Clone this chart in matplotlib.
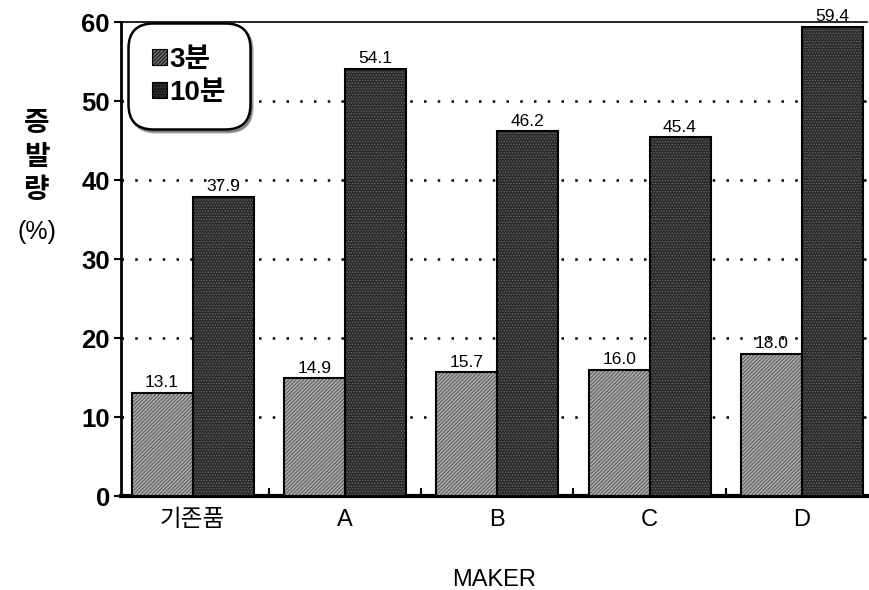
import matplotlib
matplotlib.use("Agg")
import matplotlib.pyplot as plt
import numpy as np
from matplotlib.ticker import FixedLocator

plt.rcParams['font.family'] = ['Liberation Sans', 'Noto Sans CJK KR']
plt.rcParams['hatch.linewidth'] = 0.6

makers = ['기존품', 'A', 'B', 'C', 'D']
series_names = ['3분', '10분']
vals_3min = [13.1, 14.9, 15.7, 16.0, 18.0]
vals_10min = [37.9, 54.1, 46.2, 45.4, 59.4]
yticks = [0, 10, 20, 30, 40, 50, 60]
ylabel_lines = ['증', '발', '량', '(%)']

W, H = 869, 590
fig = plt.figure(figsize=(W / 100, H / 100), dpi=100)
ax = fig.add_axes([0.1392, 0.1593, 0.8590, 0.8034])

x = np.arange(len(makers))
w = 0.4

b1 = ax.bar(x - w / 2, vals_3min, w, facecolor='#6c6c6c', edgecolor='#d0d0d0',
            hatch='/////////', linewidth=0, zorder=3, label=series_names[0])
b2 = ax.bar(x + w / 2, vals_10min, w, facecolor='#2b2b2b', edgecolor='#6a6a6a',
            hatch='......', linewidth=0, zorder=3, label=series_names[1])

# black outlines over the textured fills
for bars in (b1, b2):
    for p in bars:
        ax.add_patch(plt.Rectangle(p.get_xy(), p.get_width(), p.get_height(),
                                   fill=False, edgecolor='black', linewidth=1.5, zorder=4))

for bars, vals in ((b1, vals_3min), (b2, vals_10min)):
    for p, v in zip(bars, vals):
        ax.text(p.get_x() + p.get_width() / 2, v + 0.3, f'{v:.1f}',
                ha='center', va='bottom', fontsize=12.5, zorder=5)

ax.set_xlim(-0.47, 4.43)
ax.set_ylim(0, 60)
ax.set_yticks(yticks)
ax.set_yticklabels([str(t) for t in yticks], fontsize=18.5, fontweight='bold')
ax.set_xticks(x)
ax.set_xticklabels(makers, fontsize=17)
ax.tick_params(axis='x', length=0, pad=9)
ax.xaxis.set_minor_locator(FixedLocator(x[:-1] + 0.5))
ax.tick_params(axis='x', which='minor', direction='in', length=6, width=1.5)
ax.tick_params(axis='y', direction='out', length=5, width=1.5, pad=3)

for yv in yticks[1:-1]:
    ax.axhline(yv, color='black', linestyle=(0, (1, 4.5)), linewidth=1.8, zorder=1)

ax.spines['right'].set_visible(False)
ax.spines['top'].set_linewidth(1.2)
ax.spines['left'].set_linewidth(2)
ax.spines['bottom'].set_linewidth(3)

ax.set_xlabel('MAKER', fontsize=17, labelpad=28)

# stacked vertical axis title, one glyph group per row
for txt, ypx in zip(ylabel_lines, [124, 158, 191, 232]):
    fig.text(37 / W, 1 - ypx / H, txt, ha='center', va='center',
             fontsize=20 if txt != '(%)' else 18,
             fontweight='bold' if txt != '(%)' else 'normal')

leg = ax.legend(loc='upper left', bbox_to_anchor=(0.0, 1.012),
                prop={'weight': 'bold', 'size': 20},
                handlelength=0.55, handleheight=0.55, handletextpad=0.1,
                borderpad=0.6, labelspacing=0.25, fancybox=True, shadow=True,
                framealpha=1, edgecolor='black')
leg.get_frame().set_linewidth(1.8)
leg.get_frame().set_boxstyle('round,pad=0.25,rounding_size=0.9')
for h in leg.legend_handles:
    h.set_edgecolor('black')
    h.set_linewidth(0.8)

fig.savefig('out.png', dpi=100)
